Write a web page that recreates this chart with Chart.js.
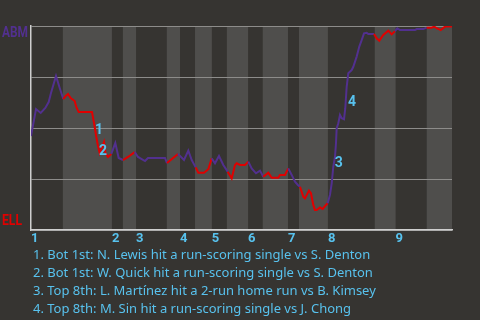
<!DOCTYPE html>
<html>
<head>
<meta charset="utf-8">
<script src="https://cdn.jsdelivr.net/npm/chart.js@4"></script>
<style>
  html, body { margin: 0; padding: 0; background: #363431; }
  #wrap { position: relative; width: 480px; height: 320px; overflow: hidden; }
  #box { position: absolute; left: 0; top: 0; width: 480px; height: 248px; }
  #notes {
    position: absolute; left: 33px; top: 245px;
    font-family: "Noto Sans", Roboto, sans-serif; font-size: 13px; line-height: 18px;
    color: #58c2ee; white-space: nowrap;
  }
</style>
</head>
<body>
<div id="wrap">
  <div id="box"><canvas id="wp"></canvas></div>
  <div id="notes"></div>
</div>
<script>
// 試合データ（打席番号 / ABMの勝率）
const awayTeam = 'ABM';
const homeTeam = 'ELL';

// 半イニングの開始位置（表・裏の順）
const halfStarts = [0, 8.7, 22.1, 25.1, 28.7, 37.1, 40.7, 44.8, 49.4, 53.5, 59.3, 63.3, 70.2, 73.2, 81.1, 93.9, 99.6, 108.1];
const lastPlay = 115;

// 下のイニング番号
const inningLabels = ['1', '2', '3', '4', '5', '6', '7', '8', '9'];

const plays = [
  0, 1.37, 2.65, 3.91, 4.83, 5.46, 6.83, 7.84, 8.82, 9.48, 10.11, 10.84, 11.94, 12.37, 13.03, 16.66,
  17.21, 17.84, 18.3, 18.77, 19.94, 20.35, 21.03, 21.93, 23.03, 23.95, 25.13, 26.5, 28.33, 29.23,
  31.14, 31.96, 36.6, 37.15, 40.15, 41.79, 42.97, 43.9, 44.99, 45.7, 47.25, 48.43, 49.36, 50.26,
  51.35, 52.53, 53.73, 54.82, 55.72, 56.19, 57.09, 58.45, 59.36, 60.28, 61.46, 62.55, 63.45, 64.82,
  65.75, 67.55, 68.01, 69.38, 70.28, 71.21, 72.11, 72.9, 73.48, 74.38, 74.84, 75.93, 76.48, 77.11,
  77.57, 78.04, 78.94, 79.68, 80.58, 81.04, 81.67, 82.14, 82.57, 83.04, 83.31, 83.5, 83.94, 84.4,
  84.87, 85.5, 85.85, 86.23, 86.67, 87.6, 88.04, 88.96, 89.68, 90.33, 90.96, 91.7, 92.13, 93.69,
  94.43, 95.14, 96.23, 97.6, 98.52, 99.43, 100.05, 100.79, 104.89, 105.35, 107.16, 108.09, 109.45,
  110.16, 110.82, 111.91, 113.08, 114.9, 115
];
const winProb = [
  0.461, 0.593, 0.574, 0.598, 0.627, 0.672, 0.755, 0.696, 0.642, 0.657, 0.667, 0.647, 0.632, 0.603, 0.578, 0.578,
  0.525, 0.456, 0.412, 0.377, 0.431, 0.377, 0.358, 0.373, 0.426, 0.353, 0.343, 0.358, 0.382, 0.358,
  0.338, 0.353, 0.353, 0.328, 0.373, 0.343, 0.389, 0.343, 0.307, 0.281, 0.281, 0.298, 0.351, 0.327,
  0.363, 0.319, 0.286, 0.253, 0.319, 0.327, 0.319, 0.319, 0.335, 0.302, 0.278, 0.291, 0.261, 0.281,
  0.256, 0.256, 0.270, 0.270, 0.302, 0.270, 0.237, 0.221, 0.212, 0.163, 0.155, 0.193, 0.180, 0.123,
  0.098, 0.098, 0.111, 0.103, 0.123, 0.131, 0.172, 0.229, 0.310, 0.359, 0.425, 0.499, 0.523, 0.564,
  0.548, 0.543, 0.597, 0.702, 0.768, 0.784, 0.800, 0.850, 0.899, 0.931, 0.964, 0.967, 0.961, 0.961,
  0.940, 0.928, 0.956, 0.977, 0.959, 0.975, 0.989, 0.980, 0.980, 0.985, 0.985, 0.992, 0.992,
  0.997, 0.989, 0.980, 0.997, 0.997, 1.0
];

// 重要プレー（番号ラベルの位置と説明）
const eventLabels = ['1', '2', '3', '4'];
const eventPlays = [18.6, 19.7, 84.1, 87.7];
const eventProbs = [0.488, 0.387, 0.324, 0.623];
const eventTexts = [
  '1. Bot 1st: N. Lewis hit a run-scoring single vs S. Denton',
  '2. Bot 1st: W. Quick hit a run-scoring single vs S. Denton',
  '3. Top 8th: L. Martínez hit a 2-run home run vs B. Kimsey',
  '4. Top 8th: M. Sin hit a run-scoring single vs J. Chong'
];

const awayColor = '#52308f';
const homeColor = '#e00000';
const noteColor = '#58c2ee';
const bgColor = '#363431';
const bandColor = '#4f4e4c';

function halfIndex(x) {
  let idx = 0;
  halfStarts.forEach((s, i) => { if (x >= s) idx = i; });
  return idx;
}

const inningStarts = halfStarts.filter((s, i) => i % 2 === 0);

// 背景と表/裏の帯
const bandPlugin = {
  id: 'bands',
  beforeDraw(chart) {
    const { ctx, chartArea, scales } = chart;
    ctx.save();
    ctx.fillStyle = bgColor;
    ctx.fillRect(0, 0, chart.width, chart.height);
    halfStarts.forEach((s, i) => {
      if (i % 2 === 0) return;
      const end = i + 1 < halfStarts.length ? halfStarts[i + 1] : lastPlay;
      const x0 = scales.x.getPixelForValue(s);
      const x1 = scales.x.getPixelForValue(end);
      ctx.fillStyle = bandColor;
      ctx.fillRect(x0, chartArea.top, x1 - x0, chartArea.bottom - chartArea.top);
    });
    ctx.restore();
  },
  afterDraw(chart) {
    const { ctx, chartArea, scales } = chart;
    ctx.save();
    ctx.font = 'bold 14px Roboto, sans-serif';
    ctx.textBaseline = 'middle';
    ctx.textAlign = 'left';
    ctx.fillStyle = awayColor;
    ctx.fillText(awayTeam, 2, chartArea.top + 7, 26);
    ctx.fillStyle = homeColor;
    ctx.fillText(homeTeam, 2, chartArea.bottom - 9, 20);

    ctx.font = 'bold 14px Roboto, sans-serif';
    ctx.textAlign = 'center';
    ctx.fillStyle = noteColor;
    eventLabels.forEach((lab, i) => {
      ctx.fillText(lab, scales.x.getPixelForValue(eventPlays[i]), scales.y.getPixelForValue(eventProbs[i]));
    });
    ctx.restore();
  }
};

const points = plays.map((p, i) => ({ x: p, y: winProb[i] }));

new Chart(document.getElementById('wp'), {
  type: 'line',
  data: {
    datasets: [{
      data: points,
      borderWidth: 2,
      pointRadius: 0,
      tension: 0,
      borderColor: awayColor,
      segment: {
        borderColor: c => halfIndex((c.p0.parsed.x + c.p1.parsed.x) / 2) % 2 === 0 ? awayColor : homeColor
      }
    }]
  },
  options: {
    responsive: true,
    maintainAspectRatio: false,
    animation: false,
    layout: { padding: { top: 26, right: 28, left: 0, bottom: 0 } },
    plugins: { legend: { display: false }, tooltip: { enabled: false } },
    scales: {
      x: {
        type: 'linear',
        min: 0,
        max: lastPlay,
        afterFit: s => { s.height = 18; },
        afterBuildTicks: s => { s.ticks = inningStarts.map(v => ({ value: v })); },
        ticks: {
          autoSkip: false,
          maxRotation: 0,
          align: 'start',
          padding: 1,
          color: noteColor,
          font: { family: 'Roboto', size: 13, weight: 'bold' },
          callback: (v, i) => inningLabels[i]
        },
        grid: { display: false, drawTicks: false },
        border: { display: true, color: '#cfcfcf', width: 1.5 }
      },
      y: {
        min: 0,
        max: 1,
        afterFit: s => { s.width = 31; },
        ticks: { display: false, stepSize: 0.25 },
        grid: { color: '#8d8c8a', lineWidth: 1, drawTicks: false },
        border: { display: true, color: '#cfcfcf', width: 1.5 }
      }
    }
  },
  plugins: [bandPlugin]
});

document.getElementById('notes').innerHTML = eventTexts.map(t => '<div>' + t + '</div>').join('');
</script>
</body>
</html>
